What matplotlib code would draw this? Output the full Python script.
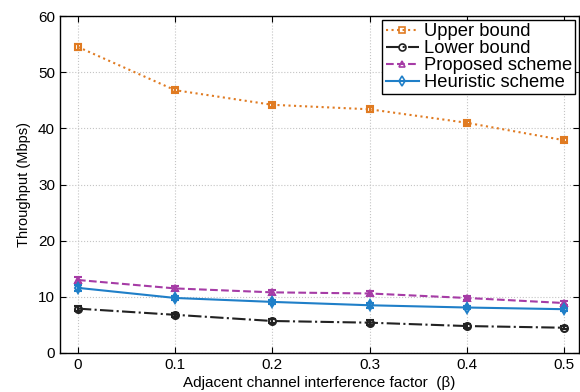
import numpy as np
import matplotlib
matplotlib.use("Agg")
import matplotlib.pyplot as plt
from matplotlib.lines import Line2D

plt.rcParams['font.family'] = ['Liberation Sans', 'DejaVu Sans']

beta = [0, 0.1, 0.2, 0.3, 0.4, 0.5]
upper = [54.5, 46.8, 44.2, 43.4, 41.0, 37.9]
lower = [7.9, 6.8, 5.7, 5.4, 4.8, 4.5]
proposed = [13.0, 11.5, 10.8, 10.6, 9.8, 8.9]
heuristic = [11.6, 9.8, 9.1, 8.5, 8.1, 7.8]
err = [0.5, 0.4, 0.4, 0.4, 0.3, 0.3]
names = ['Upper bound', 'Lower bound', 'Proposed scheme', 'Heuristic scheme']

fig = plt.figure(figsize=(5.8, 3.92), dpi=100)
ax = fig.add_axes([0.1034, 0.0995, 0.8946, 0.8595])

styles = [('#e07b22', ':', 's'), ('#222222', '-.', 'o'),
          ('#a63ca6', '--', '^'), ('#1f7fc8', '-', 'd')]
handles = []
for ys, (c, ls, m) in zip([upper, lower, proposed, heuristic], styles):
    ax.errorbar(beta, ys, yerr=err, color=c, ls=ls, lw=1.5, marker=m,
                ms=5, mfc='none', mew=1.5, capsize=3, elinewidth=1.5)
    handles.append(Line2D([], [], color=c, ls=ls, lw=1.5, marker=m,
                          ms=5, mfc='none', mew=1.2))

ax.set_xlim(-0.0185, 0.5154)
ax.set_ylim(0, 60)
ax.set_xticks(beta)
ax.set_xticklabels(['0', '0.1', '0.2', '0.3', '0.4', '0.5'])
ax.set_yticks([0, 10, 20, 30, 40, 50, 60])
ax.tick_params(direction='in', top=True, right=True, labelsize=11, length=4)
ax.grid(True, ls=':', color='#c4c4c4', lw=0.8)
for s in ax.spines.values():
    s.set_linewidth(1.0)

ax.set_xlabel('Adjacent channel interference factor  (β)', fontsize=11, labelpad=3)
ax.set_ylabel('Throughput (Mbps)', fontsize=10.5, labelpad=5)

leg = ax.legend(handles, names, loc='upper right', fontsize=13.2, fancybox=False,
                edgecolor='black', framealpha=1, handlelength=1.8, borderpad=0.18,
                labelspacing=0.0, handletextpad=0.27, borderaxespad=0.2)
leg.get_frame().set_linewidth(1.0)

fig.savefig('out.png', dpi=100)
